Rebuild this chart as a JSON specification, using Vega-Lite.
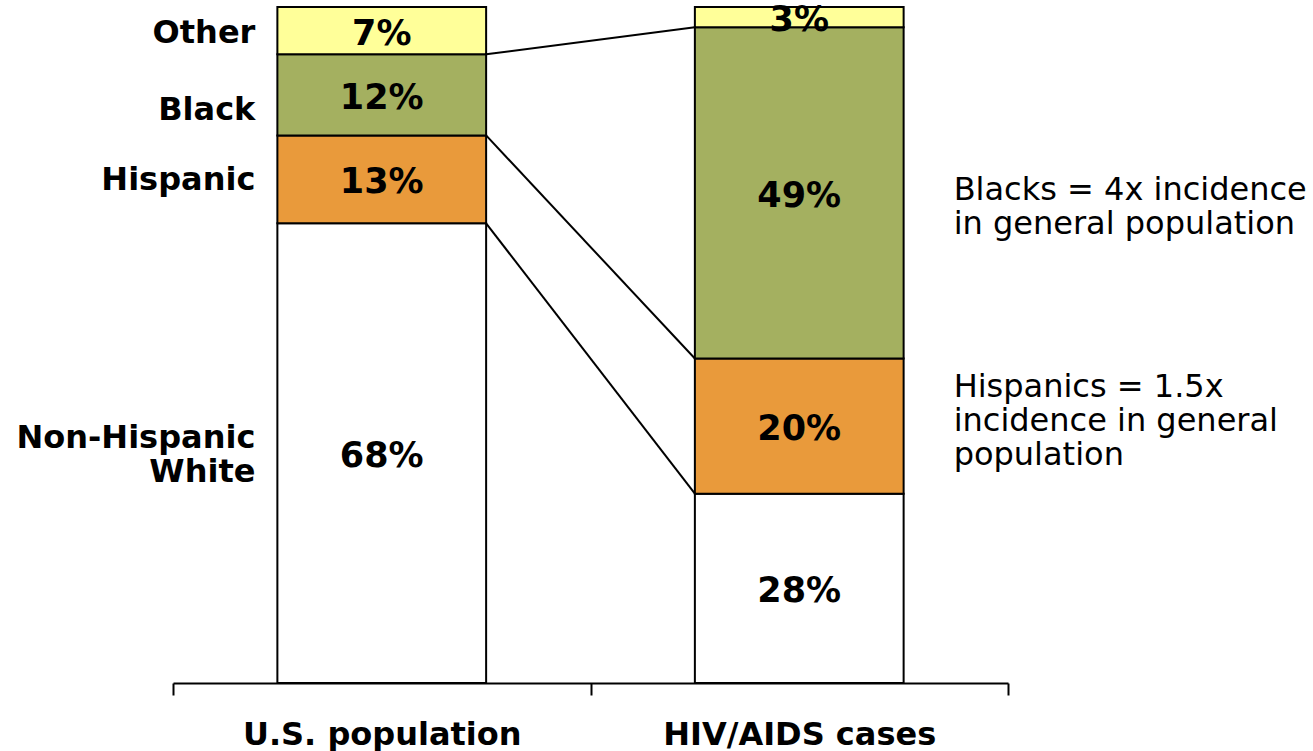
{
  "$schema": "https://vega.github.io/schema/vega-lite/v6.json",
  "width": 835,
  "height": 676,
  "autosize": "none",
  "padding": {"left": 173, "top": 7, "right": 305, "bottom": 68},
  "background": "white",
  "config": {"view": {"stroke": null}},
  "datasets": {
    "bars": [
      {"group": "U.S. population", "race": "Non-Hispanic White", "value": 68, "order": 1},
      {"group": "U.S. population", "race": "Hispanic", "value": 13, "order": 2},
      {"group": "U.S. population", "race": "Black", "value": 12, "order": 3},
      {"group": "U.S. population", "race": "Other", "value": 7, "order": 4},
      {"group": "HIV/AIDS cases", "race": "Non-Hispanic White", "value": 28, "order": 1},
      {"group": "HIV/AIDS cases", "race": "Hispanic", "value": 20, "order": 2},
      {"group": "HIV/AIDS cases", "race": "Black", "value": 49, "order": 3},
      {"group": "HIV/AIDS cases", "race": "Other", "value": 3, "order": 4}
    ],
    "links": [
      {"from": "U.S. population", "to": "HIV/AIDS cases", "left": 93, "right": 97},
      {"from": "U.S. population", "to": "HIV/AIDS cases", "left": 81, "right": 48},
      {"from": "U.S. population", "to": "HIV/AIDS cases", "left": 68, "right": 28}
    ],
    "legendLabels": [
      {"group": "U.S. population", "label": "Other", "pos": 96.1},
      {"group": "U.S. population", "label": "Black", "pos": 84.8},
      {"group": "U.S. population", "label": "Hispanic", "pos": 74.4},
      {"group": "U.S. population", "label": "Non-Hispanic\nWhite", "pos": 36.2}
    ],
    "notes": [
      {"group": "HIV/AIDS cases", "note": "Blacks = 4x incidence\nin general population", "pos": 72.9},
      {"group": "HIV/AIDS cases", "note": "Hispanics = 1.5x\nincidence in general\npopulation", "pos": 43.8}
    ]
  },
  "layer": [
    {
      "data": {"name": "bars"},
      "transform": [
        {"stack": "value", "groupby": ["group"], "sort": [{"field": "order", "order": "ascending"}], "as": ["v0", "v1"]}
      ],
      "mark": {"type": "bar", "stroke": "black", "strokeWidth": 2, "width": {"band": 0.5}},
      "encoding": {
        "x": {
          "field": "group", "type": "nominal",
          "scale": {"domain": ["U.S. population", "HIV/AIDS cases"], "paddingInner": 0, "paddingOuter": 0},
          "axis": {
            "title": null, "labelAngle": 0, "tickBand": "extent", "labelLimit": 0,
            "domainColor": "black", "domainWidth": 2,
            "tickColor": "black", "tickWidth": 2, "tickSize": 12,
            "labelFont": "DejaVu Sans", "labelFontWeight": "bold", "labelFontSize": 32,
            "labelColor": "black", "labelPadding": 24
          }
        },
        "y": {"field": "v0", "type": "quantitative", "scale": {"domain": [0, 100], "nice": false}, "axis": null},
        "y2": {"field": "v1"},
        "color": {
          "field": "race", "type": "nominal", "legend": null,
          "scale": {
            "domain": ["Non-Hispanic White", "Hispanic", "Black", "Other"],
            "range": ["#FFFFFF", "#E99A3B", "#A4B060", "#FFFF99"]
          }
        }
      }
    },
    {
      "data": {"name": "bars"},
      "transform": [
        {"stack": "value", "groupby": ["group"], "sort": [{"field": "order", "order": "ascending"}], "as": ["v0", "v1"]},
        {"calculate": "(datum.v0 + datum.v1) / 2", "as": "mid"},
        {"calculate": "datum.value + '%'", "as": "lbl"}
      ],
      "mark": {"type": "text", "font": "DejaVu Sans", "fontWeight": "bold", "fontSize": 35, "color": "black", "baseline": "middle", "dy": 3},
      "encoding": {
        "x": {"field": "group", "type": "nominal"},
        "y": {"field": "mid", "type": "quantitative"},
        "text": {"field": "lbl"}
      }
    },
    {
      "data": {"name": "links"},
      "mark": {"type": "rule", "color": "black", "strokeWidth": 2},
      "encoding": {
        "x": {"field": "from", "type": "nominal", "bandPosition": 0.75},
        "x2": {"field": "to", "bandPosition": 0.25},
        "y": {"field": "left", "type": "quantitative"},
        "y2": {"field": "right"}
      }
    },
    {
      "data": {"name": "legendLabels"},
      "mark": {"type": "text", "font": "DejaVu Sans", "fontWeight": "bold", "fontSize": 32, "color": "black", "align": "right", "baseline": "middle", "dx": -22, "lineBreak": "\n", "lineHeight": 34},
      "encoding": {
        "x": {"field": "group", "type": "nominal", "bandPosition": 0.25},
        "y": {"field": "pos", "type": "quantitative"},
        "text": {"field": "label"}
      }
    },
    {
      "data": {"name": "notes"},
      "mark": {"type": "text", "font": "DejaVu Sans", "fontSize": 32, "color": "black", "align": "left", "baseline": "middle", "dx": 50, "lineBreak": "\n", "lineHeight": 34},
      "encoding": {
        "x": {"field": "group", "type": "nominal", "bandPosition": 0.75},
        "y": {"field": "pos", "type": "quantitative"},
        "text": {"field": "note"}
      }
    }
  ]
}
